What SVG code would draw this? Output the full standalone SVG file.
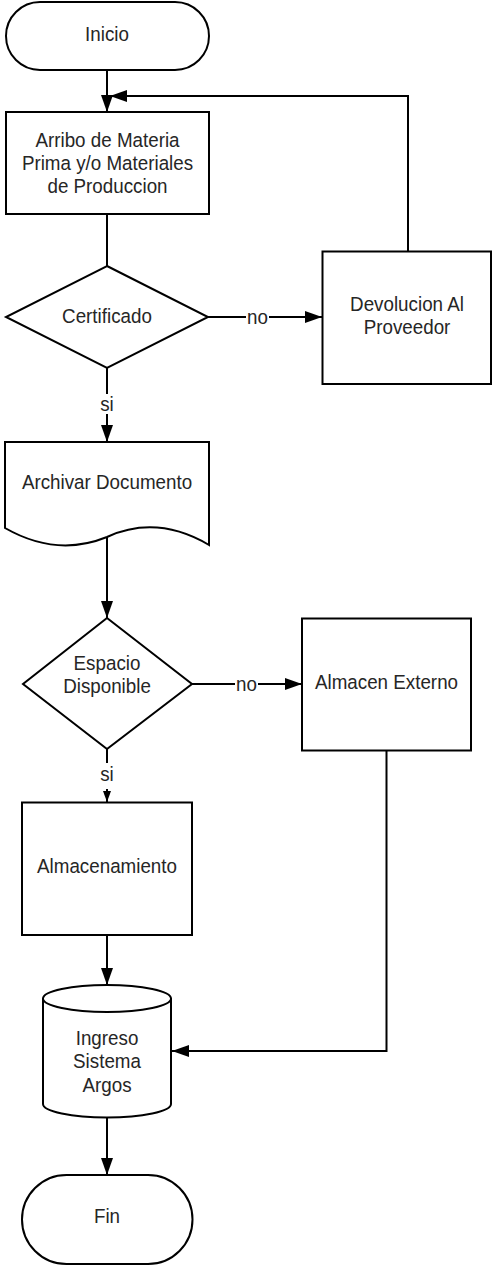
<svg xmlns="http://www.w3.org/2000/svg" width="492" height="1266" viewBox="0 0 492 1266">
<defs>
<style>
.s{fill:#fff;stroke:#000;stroke-width:2}
.t{font-family:"Liberation Sans",Arial,sans-serif;font-size:18.8px;fill:#262626;text-anchor:middle}
.c{fill:none;stroke:#000;stroke-width:2}
.lb{fill:#fff}
</style>
<marker id="ah" viewBox="0 0 17 12" refX="17" refY="6" markerWidth="17" markerHeight="12" markerUnits="userSpaceOnUse" orient="auto">
<path d="M0,0 L17,6 L0,12 Z" fill="#000"/>
</marker>
<marker id="ahs" viewBox="0 0 11 8" refX="11" refY="4" markerWidth="11" markerHeight="8" markerUnits="userSpaceOnUse" orient="auto">
<path d="M0,0 L11,4 L0,8 Z" fill="#000"/>
</marker>
</defs>
<rect width="492" height="1266" fill="#fff"/>
<g id="connectors">
<path class="c" d="M107,70 V112" marker-end="url(#ah)"/>
<path class="c" d="M408,251 V96 H110" marker-end="url(#ah)"/>
<path class="c" d="M107,214 V266"/>
<path class="c" d="M208,317 H322" marker-end="url(#ah)"/>
<rect class="lb" x="246" y="308" width="23" height="18"/>
<text class="t" transform="translate(257.5,324) scale(1,1.1)">no</text>
<path class="c" d="M107,368 V442" marker-end="url(#ah)"/>
<rect class="lb" x="99" y="394" width="16" height="20"/>
<text class="t" transform="translate(107,411) scale(1,1.1)">si</text>
<path class="c" d="M107,537 V618" marker-end="url(#ah)"/>
<path class="c" d="M192,684 H302" marker-end="url(#ah)"/>
<rect class="lb" x="235" y="675" width="23" height="18"/>
<text class="t" transform="translate(246.5,691) scale(1,1.1)">no</text>
<path class="c" d="M107,749 V802" marker-end="url(#ahs)"/>
<rect class="lb" x="99" y="763" width="16" height="26"/>
<text class="t" transform="translate(107,781) scale(1,1.1)">si</text>
<path class="c" d="M107,935 V985" marker-end="url(#ah)"/>
<path class="c" d="M386.5,751 V1051 H172" marker-end="url(#ah)"/>
<path class="c" d="M107,1117 V1175" marker-end="url(#ah)"/>
</g>
<g id="inicio">
<rect class="s" x="6" y="2" width="203" height="68" rx="34"/>
<text class="t" transform="translate(107,41) scale(1,1.1)">Inicio</text>
</g>
<g id="arribo">
<rect class="s" x="6" y="112" width="203" height="102"/>
<text class="t" transform="translate(107.5,147) scale(1,1.1)">Arribo de Materia</text>
<text class="t" transform="translate(107.5,170) scale(1,1.1)">Prima y/o Materiales</text>
<text class="t" transform="translate(107.5,193) scale(1,1.1)">de Produccion</text>
</g>
<g id="certificado">
<path class="s" d="M107,266 L208,317 L107,368 L6,317 Z"/>
<text class="t" transform="translate(107,323) scale(1,1.1)">Certificado</text>
</g>
<g id="devolucion">
<rect class="s" x="322.5" y="251.5" width="168.5" height="132.5"/>
<text class="t" transform="translate(407,311) scale(1,1.1)">Devolucion Al</text>
<text class="t" transform="translate(407,334) scale(1,1.1)">Proveedor</text>
</g>
<g id="archivar">
<path class="s" d="M5,442 H209 V545 C175,525 140,522 107,537 C75,550 40,548 5,528 Z"/>
<text class="t" transform="translate(107,489) scale(1,1.1)">Archivar Documento</text>
</g>
<g id="espacio">
<path class="s" d="M107,618 L192,684 L107,749 L23,684 Z"/>
<text class="t" transform="translate(107,670) scale(1,1.1)">Espacio</text>
<text class="t" transform="translate(107,693) scale(1,1.1)">Disponible</text>
</g>
<g id="almacen-externo">
<rect class="s" x="302" y="618.5" width="169" height="132"/>
<text class="t" transform="translate(386.5,689) scale(1,1.1)">Almacen Externo</text>
</g>
<g id="almacenamiento">
<rect class="s" x="22" y="802.5" width="170" height="132.5"/>
<text class="t" transform="translate(107,873) scale(1,1.1)">Almacenamiento</text>
</g>
<g id="ingreso">
<path class="s" d="M43,998.5 A64,13.5 0 0 1 171,998.5 V1104 A64,13.5 0 0 1 43,1104 Z"/>
<path class="c" d="M43,998.5 A64,13.5 0 0 0 171,998.5"/>
<text class="t" transform="translate(107,1045) scale(1,1.1)">Ingreso</text>
<text class="t" transform="translate(107,1068) scale(1,1.1)">Sistema</text>
<text class="t" transform="translate(107,1092) scale(1,1.1)">Argos</text>
</g>
<g id="fin">
<rect class="s" x="22" y="1175" width="170.5" height="89" rx="44.5"/>
<text class="t" transform="translate(107,1223) scale(1,1.1)">Fin</text>
</g>
</svg>
